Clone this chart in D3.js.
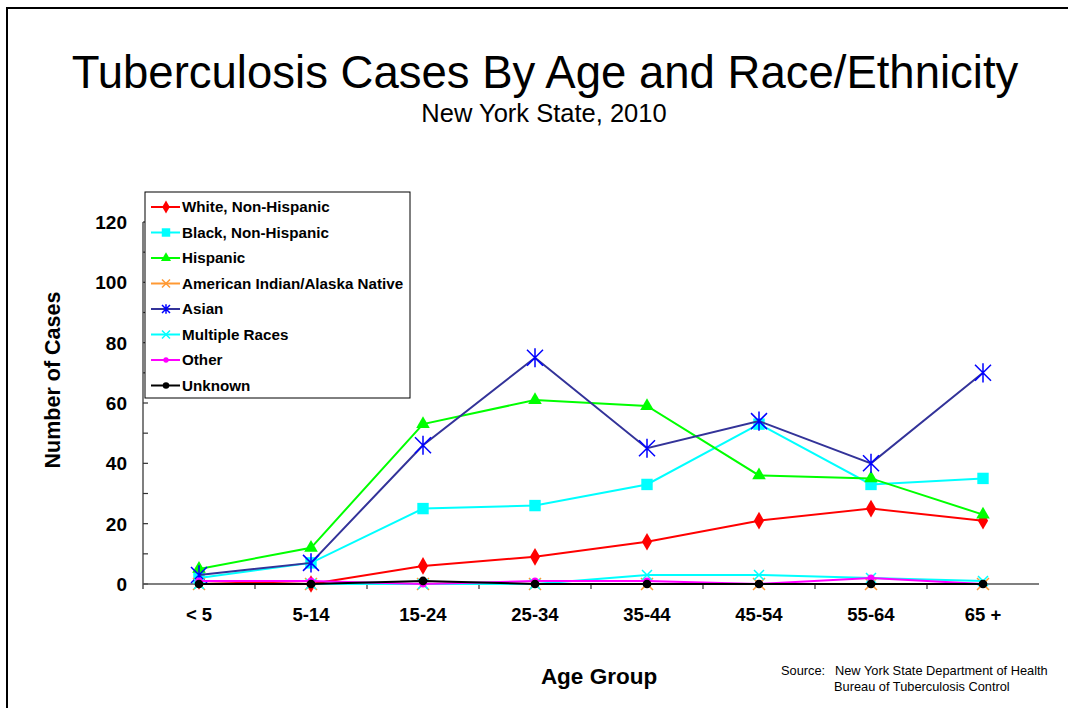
<!DOCTYPE html>
<html>
<head>
<meta charset="utf-8">
<script src="https://cdn.jsdelivr.net/npm/d3@7"></script>
<style>
  body { margin: 0; background: #fff; }
  text { font-family: Arial, "Liberation Sans", sans-serif; }
</style>
</head>
<body>
<div id="chart"></div>
<script>
// data
var ageGroups = ["< 5", "5-14", "15-24", "25-34", "35-44", "45-54", "55-64", "65 +"];
var white = [1, 0, 6, 9, 14, 21, 25, 21];
var black = [2, 7, 25, 26, 33, 53, 33, 35];
var hispanic = [5, 12, 53, 61, 59, 36, 35, 23];
var amIndian = [0, 0, 0, 0, 0, 0, 0, 0];
var asian = [3, 7, 46, 75, 45, 54, 40, 70];
var multiple = [0, 0, 0, 0, 3, 3, 2, 1];
var other = [1, 1, 0, 1, 1, 0, 2, 0];
var unknown = [0, 0, 1, 0, 0, 0, 0, 0];
var yTicks = [0, 20, 40, 60, 80, 100, 120];

var series = [
  { name: "White, Non-Hispanic", values: white, line: "#ff0000", fill: "#ff0000", marker: "diamond", size: 90 },
  { name: "Black, Non-Hispanic", values: black, line: "#00ffff", fill: "#00ffff", marker: "square", size: 130 },
  { name: "Hispanic", values: hispanic, line: "#00ff00", fill: "#00ff00", marker: "triangle", size: 80 },
  { name: "American Indian/Alaska Native", values: amIndian, line: "#ff9933", fill: "#ff9933", marker: "x", size: 6 },
  { name: "Asian", values: asian, line: "#333399", fill: "#0000ff", marker: "star", size: 8 },
  { name: "Multiple Races", values: multiple, line: "#00ffff", fill: "#00ffff", marker: "x", size: 5 },
  { name: "Other", values: other, line: "#ff00ff", fill: "#ff00ff", marker: "circle", size: 40 },
  { name: "Unknown", values: unknown, line: "#000000", fill: "#000000", marker: "circle", size: 60 }
];

var W = 1068, H = 708;
var margin = { top: 222, right: 29, bottom: 124, left: 143 },
  width = W - margin.left - margin.right,
  height = H - margin.top - margin.bottom;

var svg = d3.select("#chart")
  .append("svg")
  .attr("width", W)
  .attr("height", H);

// outer frame (runs off the right and bottom edges)
svg.append("rect")
  .attr("x", 7).attr("y", 8)
  .attr("width", W + 20).attr("height", H + 20)
  .attr("fill", "none").attr("stroke", "#000").attr("stroke-width", 2);

svg.append("text")
  .attr("x", 545).attr("y", 88)
  .attr("text-anchor", "middle")
  .style("font-size", "45.5px")
  .text("Tuberculosis Cases By Age and Race/Ethnicity");

svg.append("text")
  .attr("x", 544).attr("y", 122)
  .attr("text-anchor", "middle")
  .style("font-size", "25.5px")
  .text("New York State, 2010");

var g = svg.append("g")
  .attr("transform", "translate(" + margin.left + "," + margin.top + ")");

var x = d3.scaleBand().domain(ageGroups).range([0, width]);
var y = d3.scaleLinear().domain([0, 120]).range([height, 0]);

// y axis: ticks every 10 pointing inward, labels only at 20s
g.append("line")
  .attr("x1", 0).attr("x2", 0).attr("y1", 0).attr("y2", height + 5)
  .attr("stroke", "#555").attr("stroke-width", 1.5);
g.selectAll(".ytick")
  .data(d3.range(0, 121, 10))
  .enter().append("line")
  .attr("x1", 0).attr("x2", 5)
  .attr("y1", function (d) { return y(d); })
  .attr("y2", function (d) { return y(d); })
  .attr("stroke", "#333").attr("stroke-width", 1.2);
g.selectAll(".ylab")
  .data(yTicks)
  .enter().append("text")
  .attr("x", -16)
  .attr("y", function (d) { return y(d) + 7; })
  .attr("text-anchor", "end")
  .style("font-size", "19px").style("font-weight", "bold")
  .text(function (d) { return d; });

// x axis
g.append("line")
  .attr("x1", 0).attr("x2", width).attr("y1", height).attr("y2", height)
  .attr("stroke", "#555").attr("stroke-width", 1.5);
g.selectAll(".xtick")
  .data(ageGroups.slice(1))
  .enter().append("line")
  .attr("x1", function (d) { return x(d); })
  .attr("x2", function (d) { return x(d); })
  .attr("y1", height).attr("y2", height + 5)
  .attr("stroke", "#333").attr("stroke-width", 1.2);
g.selectAll(".xlab")
  .data(ageGroups)
  .enter().append("text")
  .attr("x", function (d) { return x(d) + x.bandwidth() / 2; })
  .attr("y", height + 37)
  .attr("text-anchor", "middle")
  .style("font-size", "18.5px").style("font-weight", "bold")
  .text(function (d) { return d; });

svg.append("text")
  .attr("transform", "translate(60,380) rotate(-90)")
  .attr("text-anchor", "middle")
  .style("font-size", "21.5px").style("font-weight", "bold")
  .text("Number of Cases");

svg.append("text")
  .attr("x", 599).attr("y", 684)
  .attr("text-anchor", "middle")
  .style("font-size", "22.5px").style("font-weight", "bold")
  .text("Age Group");

svg.append("text")
  .attr("x", 781).attr("y", 675)
  .style("font-size", "12.8px")
  .text("Source:");
svg.append("text")
  .attr("x", 835).attr("y", 675)
  .style("font-size", "12.8px")
  .text("New York State Department of Health");
svg.append("text")
  .attr("x", 834).attr("y", 691)
  .style("font-size", "12.8px")
  .text("Bureau of Tuberculosis Control");

// marker drawing
function drawMarker(sel, s) {
  if (s.marker === "x" || s.marker === "star") {
    var r = s.size;
    var p = "M" + (-r) + "," + (-r) + "L" + r + "," + r + "M" + (-r) + "," + r + "L" + r + "," + (-r);
    if (s.marker === "star") p += "M0," + (-r * 1.2) + "L0," + (r * 1.2);
    sel.append("path").attr("d", p)
      .attr("stroke", s.fill).attr("stroke-width", 1.5).attr("fill", "none");
  } else {
    var type = { diamond: d3.symbolDiamond, square: d3.symbolSquare, triangle: d3.symbolTriangle, circle: d3.symbolCircle }[s.marker];
    sel.append("path")
      .attr("d", d3.symbol().type(type).size(s.size)())
      .attr("fill", s.fill);
  }
}

var line = d3.line()
  .x(function (d, i) { return x(ageGroups[i]) + x.bandwidth() / 2; })
  .y(function (d) { return y(d); });

series.forEach(function (s) {
  var sg = g.append("g");
  sg.append("path")
    .datum(s.values)
    .attr("d", line)
    .attr("fill", "none")
    .attr("stroke", s.line)
    .attr("stroke-width", 2);
  sg.selectAll(".pt")
    .data(s.values)
    .enter().append("g")
    .attr("transform", function (d, i) {
      return "translate(" + (x(ageGroups[i]) + x.bandwidth() / 2) + "," + y(d) + ")";
    })
    .each(function () { drawMarker(d3.select(this), s); });
});

// legend
var leg = svg.append("g").attr("transform", "translate(145,192)");
leg.append("rect")
  .attr("x", 0).attr("y", 0).attr("width", 265).attr("height", 206)
  .attr("fill", "#fff").attr("stroke", "#000").attr("stroke-width", 1);
var items = leg.selectAll(".item")
  .data(series)
  .enter().append("g")
  .attr("transform", function (d, i) { return "translate(0," + (15 + i * 25.5) + ")"; });
items.append("line")
  .attr("x1", 6).attr("x2", 35).attr("y1", 0).attr("y2", 0)
  .attr("stroke", function (d) { return d.line; }).attr("stroke-width", 2);
items.each(function (d) {
  var m = d3.select(this).append("g").attr("transform", "translate(21,0)");
  var small = Object.assign({}, d, {
    size: (d.marker === "x" || d.marker === "star") ? 4 : d.size * 0.55
  });
  drawMarker(m, small);
});
items.append("text")
  .attr("x", 37).attr("y", 5)
  .style("font-size", "15.2px").style("font-weight", "bold")
  .text(function (d) { return d.name; });
</script>
</body>
</html>
